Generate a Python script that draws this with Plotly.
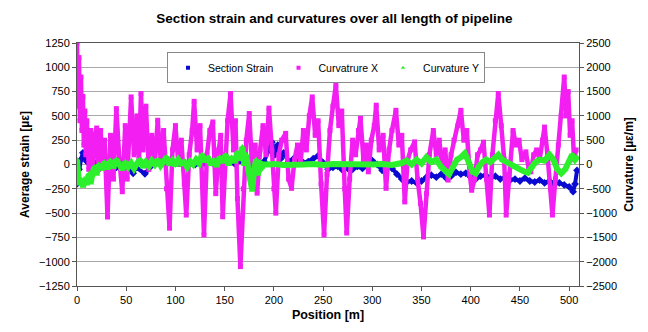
import plotly.graph_objects as go

# ---- data ----
strain_x = [0, 2, 4, 6, 8, 10, 15, 20, 30, 40, 50, 57, 60, 69, 75, 80, 90, 100, 110, 120, 130, 140, 150, 160,
            170, 175, 180, 185, 190, 195, 198, 201, 204, 207, 210, 215, 220, 225, 230, 235, 240, 245, 250, 255,
            260, 265, 270, 275, 280, 285, 290, 295, 300, 305, 310, 315, 320, 325, 330, 335, 340, 345, 350, 355,
            360, 365, 370, 375, 380, 385, 390, 395, 400, 405, 410, 415, 420, 425, 430, 435, 440, 445, 450, 455,
            460, 465, 470, 475, 480, 485, 490, 495, 500, 504, 506, 508]
strain_y = [-200, -50, 50, 120, 80, 30, 0, 20, 0, -30, -20, -90, -30, -95, -20, 10, 0, 10, -10, 0, 10, 0, 20, 10,
            40, 50, 0, -10, 30, 150, 230, 100, 200, 60, 120, 30, 60, 30, 20, 30, 60, 90, 20, -50,
            -30, -20, -60, -40, -50, -20, -40, -10, 40, 0, -60, -20, -40, -100, -150, -180, -170, -190, -170, -130,
            -110, -130, -100, -140, -120, -80, -100, -90, -130, -150, -120, -110, -140, -120, -150, -130, -160, -150, -170, -140,
            -170, -180, -160, -190, -170, -200, -190, -210, -230, -280, -200, -60]

curvx_x = [0, 1, 2, 3, 4, 5, 6, 7, 8, 9, 10, 12, 14, 16, 18, 20, 22, 24, 26, 28, 31, 34, 37, 40, 43, 46, 49, 51,
           55, 58, 61, 63, 65, 67, 70, 73, 76, 79, 82, 85, 88, 91, 94, 97, 100, 103, 106, 109, 111, 114, 117, 119,
           122, 125, 129, 132, 135, 138, 141, 144, 146, 148, 151, 153, 156, 159, 161, 163, 166, 169, 172, 175, 178,
           181, 183, 186, 189, 192, 195, 198, 200, 202, 205, 208, 212, 215, 218, 221, 224, 227, 230, 233, 236, 239,
           242, 245, 248, 251, 254, 257, 260, 263, 266, 269, 272, 274, 277, 280, 283, 286, 288, 291, 294, 296, 299,
           302, 304, 307, 311, 314, 317, 320, 324, 327, 330, 333, 336, 339, 343, 346, 349, 352, 355, 358, 362, 365,
           368, 371, 374, 377, 380, 383, 387, 390, 393, 396, 399, 401, 404, 407, 410, 413, 416, 419, 422, 425, 428,
           431, 434, 436, 439, 443, 446, 449, 452, 456, 459, 461, 464, 467, 470, 473, 475, 478, 481, 483, 486, 489,
           492, 495, 497, 499, 501, 503, 505, 507]
curvx_y = [2500, 1200, 2200, 900, 1800, 700, 1400, 400, 1100, 200, 900, -100, 700, -200, 600, 750, -100, 700, 0,
           500, -1080, 600, -300, 1150, 100, -560, 800, -300, 1390, 200, 1000, 100, 1460, 300, 1200, -100, 600, 0,
           910, 100, 700, -500, -1310, 300, 800, 0, 500, -400, -1040, 200, 700, 1300, 300, 800, -1450, 200, 700,
           875, -600, 300, 600, -1076, 200, 900, 1460, 300, 900, -700, -2100, -500, 500, 1050, -100, 400, -590, 300,
           800, 200, 1160, 300, -500, -1000, 200, 500, 640, -300, -490, 100, 400, 0, 700, 300, 1000, 1390, 600, 900,
           -400, -1450, -200, 700, 1200, 1630, 800, 1100, -500, -1410, -300, 500, 200, 700, 950, 100, 400, -150, 500,
           800, 1220, 300, 600, -490, 300, 700, 1115, 400, 600, -770, 100, 300, 465, -300, -800, -1490, -600, 200,
           700, 200, 500, 0, 300, -320, 200, 500, 800, 1115, 500, 700, -200, -530, -300, 200, 300, 460, -300, -1040,
           200, 900, 1460, 800, 100, -1040, -200, 700, 400, 500, 100, 260, -100, -150, 200, 300, 100, 500, 770, 200,
           -500, -1040, -300, 400, 1000, 1800, 1000, 1500, 600, 900, 100, 300]

curvy_x = [0, 1, 2, 4, 6, 8, 10, 12, 14, 16, 18, 20, 22, 25, 28, 31, 34, 37, 40, 43, 46, 49, 52, 55, 58, 61, 64,
           67, 70, 73, 76, 79, 82, 85, 88, 91, 94, 97, 100, 103, 106, 109, 112, 115, 118, 121, 124, 127, 130, 133,
           136, 139, 142, 145, 148, 151, 154, 157, 160, 163, 166, 168, 170, 172, 174, 176, 178, 180, 182, 184, 186,
           188, 190, 195, 200, 210, 220, 230, 240, 250, 260, 270, 280, 290, 300, 310, 320, 330, 335, 340, 345, 350,
           355, 360, 365, 370, 375, 378, 382, 386, 390, 394, 398, 402, 405, 408, 412, 416, 420, 425, 428, 432, 436,
           440, 445, 450, 455, 458, 462, 466, 470, 475, 480, 484, 488, 492, 496, 500, 503, 506, 508]
curvy_y = [100, -200, -400, -300, -450, -350, -400, -200, -380, -150, -50, -200, 0, -100, 50, -80, 80, -60, 100, 0,
           -100, 50, -50, 30, -80, 20, 100, -50, 50, -30, 80, 0, 100, -20, 60, 150, 0, 80, -20, 100, 20, 50, -50, 60,
           0, 100, 30, 200, 60, 150, 0, 100, -30, 150, 50, 200, 0, 150, 50, 250, 100, 360, 0, 200, -100, -300, -530,
           -100, 100, -200, 50, -50, 0, 0, 10, -10, 10, 0, 10, -10, 10, 0, 10, -10, 0, 10, -10, 30, 80, 0, 100, 20,
           150, 50, 100, -50, -150, -200, -50, 100, 150, 230, 50, -150, -180, -50, 50, 100, 50, 150, 200, 100, 50,
           0, -50, -100, -150, -170, -50, 50, 100, 80, 200, 100, -100, -180, -100, 50, 200, 100, 150]

left_ticks = [-1250, -1000, -750, -500, -250, 0, 250, 500, 750, 1000, 1250]
right_ticks = [-2500, -2000, -1500, -1000, -500, 0, 500, 1000, 1500, 2000, 2500]
x_ticks = [0, 50, 100, 150, 200, 250, 300, 350, 400, 450, 500]

FONT = "Liberation Sans, Arial, sans-serif"
BLUE, MAG, GREEN = "#0a0ad0", "#f21ef2", "#2cf02c"

fig = go.Figure()
fig.add_trace(go.Scatter(
    x=strain_x, y=strain_y, name="Section Strain", mode="lines+markers", showlegend=False,
    line=dict(color=BLUE, width=4), marker=dict(symbol="diamond", size=6, color=BLUE),
    yaxis="y"))
fig.add_trace(go.Scatter(
    x=curvx_x, y=curvx_y, name="Curvatrure X", mode="lines+markers", showlegend=False,
    line=dict(color=MAG, width=4.5), marker=dict(symbol="square", size=5, color=MAG),
    yaxis="y2"))
fig.add_trace(go.Scatter(
    x=curvy_x, y=curvy_y, name="Curvature Y", mode="lines+markers", showlegend=False,
    line=dict(color=GREEN, width=6), marker=dict(symbol="triangle-up", size=6, color=GREEN),
    yaxis="y2"))
# legend entries (marker only, as in the reference)
for nm, col, sym in [("Section Strain", BLUE, "square"), ("Curvatrure X", MAG, "square"),
                     ("Curvature Y", GREEN, "triangle-up")]:
    fig.add_trace(go.Scatter(x=[None], y=[None], name=nm, mode="markers",
                             marker=dict(symbol=sym, size=4, color=col), yaxis="y"))

fig.update_layout(
    width=640, height=324,
    margin=dict(l=69, r=69, t=35, b=46, autoexpand=False),
    paper_bgcolor="white", plot_bgcolor="white",
    font=dict(family=FONT, size=11, color="black"),
    title=dict(text="<b>Section strain and curvatures over all length of pipeline</b>",
               x=0.51, xanchor="center", y=0.968, yanchor="middle",
               font=dict(family=FONT, size=13.5, color="black")),
    xaxis=dict(range=[0, 510], tickvals=x_ticks, ticks="outside", ticklen=4, tickcolor="#555",
               showgrid=False, showline=True, linecolor="#555", linewidth=1, mirror=True, zeroline=False,
               automargin=False,
               title=dict(text="<b>Position [m]</b>", font=dict(size=12.5), standoff=5),
               tickfont=dict(size=11)),
    yaxis=dict(range=[-1250, 1250], tickvals=left_ticks, ticks="outside", ticklen=4, tickcolor="#555",
               showgrid=True, gridcolor="#a8a8a8", gridwidth=1, zeroline=False,
               showline=True, linecolor="#555", linewidth=1, automargin=False,
               title=dict(text="<b>Average strain [µε]</b>", font=dict(size=12), standoff=6),
               tickfont=dict(size=11)),
    yaxis2=dict(range=[-2500, 2500], tickvals=right_ticks, overlaying="y", side="right",
                ticks="outside", ticklen=4, tickcolor="#555", showgrid=False, zeroline=False,
                showline=True, linecolor="#555", linewidth=1, automargin=False,
                title=dict(text="<b>Curvature [µε/m]</b>", font=dict(size=12), standoff=8),
                tickfont=dict(size=11)),
    legend=dict(orientation="h", x=0.496, xanchor="center", y=0.962, yanchor="top",
                bgcolor="white", bordercolor="#888", borderwidth=1,
                font=dict(size=10.5), itemwidth=30, tracegroupgap=0),
    showlegend=True,
)

fig.write_html("out.html")
